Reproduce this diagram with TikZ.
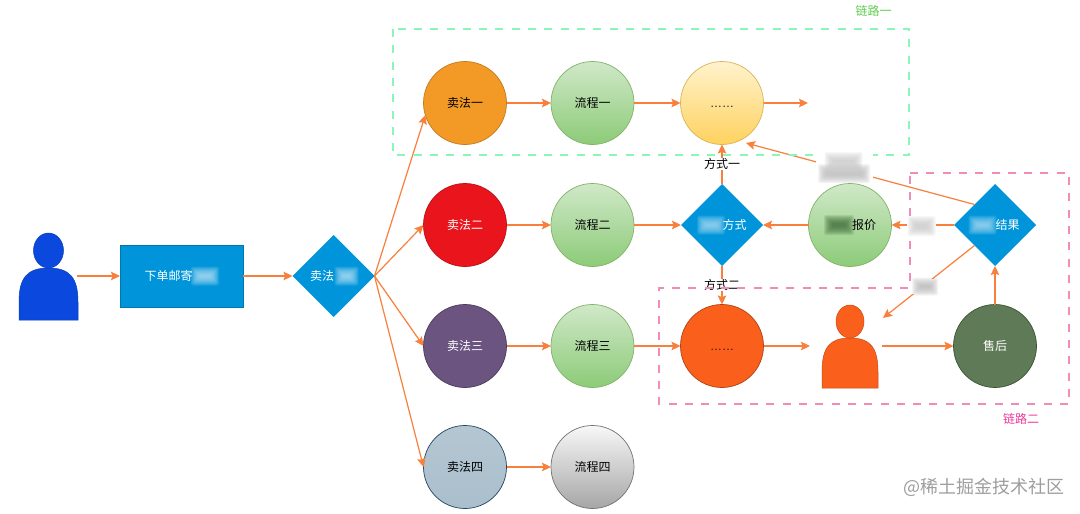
\documentclass[tikz,border=0pt]{standalone}
\usepackage{fontspec}
\setmainfont{Noto Sans CJK SC}
\newfontfamily\latinfont{Liberation Sans}
\usetikzlibrary{shapes.geometric,arrows.meta}
\definecolor{edgeor}{HTML}{F97F3C}
\definecolor{blueA}{HTML}{0095DA}
\definecolor{blueB}{HTML}{0A48DE}
\definecolor{orB}{HTML}{FA5F1C}
\definecolor{greenline}{HTML}{8CF5B8}
\definecolor{pinkline}{HTML}{F08CB8}
\definecolor{c1}{HTML}{F39A26}
\definecolor{c2}{HTML}{E9141C}
\definecolor{c3}{HTML}{6B5480}
\definecolor{c4}{HTML}{AABFCC}
\definecolor{c4l}{HTML}{B4C6D2}
\definecolor{c4d}{HTML}{23445D}
\definecolor{gtop}{HTML}{D0E8C8}
\definecolor{gbot}{HTML}{8CCB78}
\definecolor{gline}{HTML}{82B366}
\definecolor{ytop}{HTML}{FFF2CC}
\definecolor{ybot}{HTML}{FFD25F}
\definecolor{yline}{HTML}{D6B656}
\definecolor{sage}{HTML}{5F7A56}
\definecolor{sageline}{HTML}{3A5431}
\definecolor{capgreen}{HTML}{5FCF50}
\definecolor{cappink}{HTML}{F0389A}
\definecolor{darkgreen}{HTML}{3E6A38}
\newcommand{\smudge}[5]{%
  \foreach \g in {7,6,5,4,3,2,1,0,-1}{%
    \fill[#5,opacity=.14,rounded corners=2pt] ({#1-#3/2-\g},{#2-#4/2-\g}) rectangle ({#1+#3/2+\g},{#2+#4/2+\g});
  }}
\tikzset{
  every node/.style={font=\fontsize{12}{14}\selectfont,inner sep=0pt,outer sep=0pt},
  ball/.style={circle,minimum size=83pt,draw=#1,line width=.7pt},
  greenball/.style={ball=gline,top color=gtop,bottom color=gbot,text=black},
  dia/.style={diamond,aspect=1,minimum width=82pt,minimum height=82pt,fill=blueA,text=white},
  conn/.style={draw=edgeor,line width=1.2pt,-{Stealth[length=9pt,width=8.5pt,inset=1.5pt]}},
  dashbox/.style={draw=#1,line width=1.3pt,dash pattern=on 8pt off 8.3pt},
  person/.style={minimum width=57pt,minimum height=52pt},
  caplabel/.style={fill=white,inner xsep=1pt,inner ysep=.5pt},
  dots/.style={font=\latinfont\fontsize{12}{14}\selectfont,text=black!90}
}
\begin{document}
\begin{tikzpicture}[x=1pt,y=-1pt]
\useasboundingbox[fill=white] (0,0) rectangle (1080,514);
% people
\node[person] (p1) at (48.5,294) {};
\filldraw[fill=blueB,draw=blueB!85!black,line width=.5pt] (19,320) -- (19,302) .. controls (19,278) and (27,268) .. (48.5,268) .. controls (70,268) and (78,278) .. (78,302) -- (78,320) -- cycle;
\filldraw[fill=blueB,draw=blueB!85!black,line width=.5pt] (48.5,250.5) ellipse (15 and 17.5);
\node[person] (p2) at (850,363) {};
\filldraw[fill=orB,draw=orB!80!black,line width=.5pt] (822,388) -- (822,372) .. controls (822,347) and (830,338) .. (850,338) .. controls (870,338) and (878,347) .. (878,372) -- (878,388) -- cycle;
\filldraw[fill=orB,draw=orB!80!black,line width=.5pt] (850,321.5) ellipse (14 and 16.5);
% main nodes
\node[draw=blueA!80!black,fill=blueA,text=white,minimum width=123pt,minimum height=62pt,line width=.5pt] (order) at (181.5,276) {下单邮寄\kern26pt\relax};
\node[dia] (d1) at (333.5,276) {卖法\kern23pt\relax};
\node[ball=c1!80!black,fill=c1,text=black] (s1) at (465,103) {卖法一};
\node[ball=c2!80!black,fill=c2,text=white] (s2) at (465,225) {卖法二};
\node[ball=c3!70!black,fill=c3,text=white] (s3) at (465,346) {卖法三};
\node[ball=c4d,top color=c4l,bottom color=c4,text=black] (s4) at (465,467) {卖法四};
\node[greenball] (f1) at (592.5,103) {流程一};
\node[greenball] (f2) at (592.5,225) {流程二};
\node[greenball] (f3) at (592.5,346) {流程三};
\node[ball=black!55,top color=black!3,bottom color=black!35,text=black] (f4) at (592.5,467) {流程四};
\node[ball=yline,top color=ytop,bottom color=ybot,dots] (y1) at (722,103) {\rule{0pt}{8pt}……};
\node[dia] (d2) at (722,225) {\kern25pt\relax 方式};
\node[greenball] (q1) at (850,225) {\kern28pt\relax 报价};
\node[dia] (d3) at (995,225) {\kern25pt\relax 结果};
\node[ball=orB!70!black,fill=orB,dots] (o1) at (722,346) {\rule{0pt}{8pt}……};
\node[ball=sageline,fill=sage,text=white] (a1) at (995,346) {售后};
\coordinate (end1) at (808,103);
\coordinate (endY) at (746,143);
\coordinate (endP) at (883,318);
\coordinate (inP2) at (810,346);
\coordinate (outP2) at (882,346);
% connectors
\draw[conn] (p1.east |- order.west) -- (order.west);
\draw[conn] (order.east) -- (d1.west);
\draw[conn] (d1.east) -- (s1.197);
\draw[conn] (d1.east) -- (s2.west);
\draw[conn] (d1.east) -- (s3.west);
\draw[conn] (d1.east) -- (s4.west);
\draw[conn] (s1) -- (f1);
\draw[conn] (s2) -- (f2);
\draw[conn] (s3) -- (f3);
\draw[conn] (s4) -- (f4);
\draw[conn] (f1) -- (y1);
\draw[conn] (y1) -- (end1);
\draw[conn] (f2.east) -- (d2.west);
\draw[conn] (f3) -- (o1);
\draw[conn] (o1.east) -- (inP2);
\draw[conn] (outP2) -- (a1.west);
\draw[conn] (a1.north) -- (d3.south);
\draw[conn] (d3.west) -- (q1.east);
\draw[conn] (q1.west) -- (d2.east);
\draw[conn] (d2.north) -- node[caplabel,pos=.5] (lab1) {方式一} (y1.south);
\draw[conn] (d2.south) -- node[caplabel,pos=.5] (lab2) {方式二} (o1.north);
\draw[conn] (d3.north west) -- (endY);
\draw[conn] (d3.south west) -- (endP);
% dashed regions
\draw[dashbox=greenline] (393,29) rectangle (909,155);
\draw[dashbox=pinkline] (910,173) -- (1069,173) -- (1069,404) -- (659,404) -- (659,288) -- (910,288) -- cycle;
% obscured labels
\fill[white] (816,152) rectangle (873,180);
\smudge{843.5}{161.5}{24}{5}{black!22}
\smudge{844}{173.5}{38}{5}{black!28}
\fill[white] (907,217) rectangle (936,236);
\smudge{921.5}{226}{14}{6}{black!22}
\fill[white] (911,279) rectangle (938,294);
\smudge{925}{286.5}{12}{4}{black!30}
\smudge{205}{276}{14}{5}{white!75!blueA}
\smudge{346.5}{276}{10}{5}{white!75!blueA}
\smudge{711}{225}{14}{5}{white!70!blueA}
\smudge{839}{225}{16}{6}{darkgreen}
\smudge{982.5}{225}{14}{5}{white!70!blueA}
% captions
\node[text=capgreen] (t1) at (873.5,10.5) {链路一};
\node[text=cappink] (t2) at (1021,418.5) {链路二};
\node[font=\fontsize{18}{22}\selectfont,text=black!38] (wm) at (984,487) {@稀土掘金技术社区};
\end{tikzpicture}
\end{document}
